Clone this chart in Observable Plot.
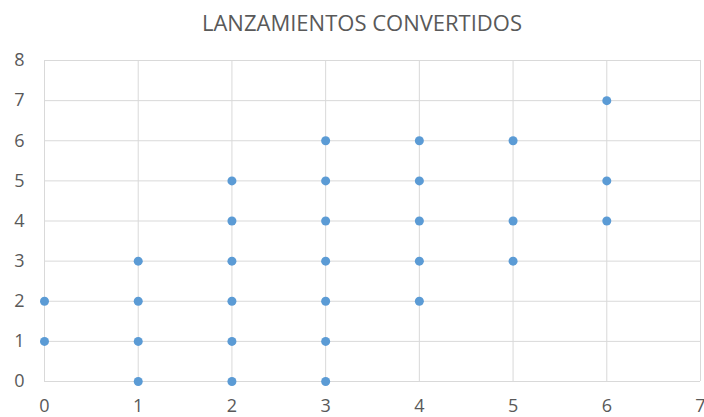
<!DOCTYPE html>
<html>
<head>
<meta charset="utf-8">
<script src="https://cdn.jsdelivr.net/npm/d3@7"></script>
<script src="https://cdn.jsdelivr.net/npm/@observablehq/plot@0.6"></script>
<style>
  html, body { margin: 0; padding: 0; background: #fff; overflow: hidden; }
  #title { height: 38px; line-height: 44px; text-align: center; font-family: "Open Sans", sans-serif; font-size: 22px; color: #595959; padding-left: 20px; }
</style>
</head>
<body>
<div id="title">LANZAMIENTOS CONVERTIDOS</div>
<div id="chart"></div>
<script>
const xValues = [0, 0, 1, 1, 1, 1, 2, 2, 2, 2, 2, 2, 3, 3, 3, 3, 3, 3, 3, 4, 4, 4, 4, 4, 5, 5, 5, 6, 6, 6];
const yValues = [1, 2, 0, 1, 2, 3, 0, 1, 2, 3, 4, 5, 0, 1, 2, 3, 4, 5, 6, 2, 3, 4, 5, 6, 3, 4, 6, 4, 5, 7];
const xTicks = [0, 1, 2, 3, 4, 5, 6, 7];
const yTicks = [0, 1, 2, 3, 4, 5, 6, 7, 8];

const data = xValues.map((x, i) => ({x, y: yValues[i]}));

const chart = Plot.plot({
  width: 704,
  height: 379,
  marginTop: 22,
  marginBottom: 36,
  marginLeft: 44,
  marginRight: 4,
  style: {fontFamily: "Open Sans, sans-serif", fontSize: "18px", color: "#595959", background: "#fff"},
  x: {domain: [0, 7], ticks: xTicks, label: null, tickSize: 0, tickPadding: 18},
  y: {domain: [0, 8], ticks: yTicks, label: null, tickSize: 0, tickPadding: 20},
  marks: [
    Plot.gridX(xTicks, {stroke: "#d9d9d9", strokeOpacity: 1, strokeWidth: 1}),
    Plot.gridY(yTicks, {stroke: "#d9d9d9", strokeOpacity: 1, strokeWidth: 1}),
    Plot.axisX(xTicks, {tickSize: 0, tickPadding: 18, fill: "#595959", fontSize: 18}),
    Plot.axisY(yTicks, {tickSize: 0, tickPadding: 20, fill: "#595959", fontSize: 18}),
    Plot.dot(data, {x: "x", y: "y", r: 4.5, fill: "#5B9BD5", stroke: "none"})
  ]
});
document.getElementById("chart").appendChild(chart);
</script>
</body>
</html>
